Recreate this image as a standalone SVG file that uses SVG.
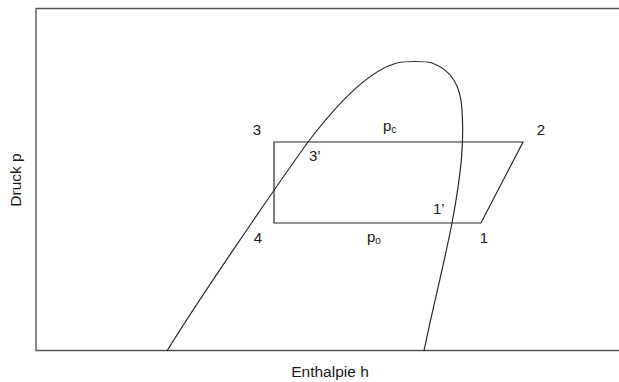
<svg xmlns="http://www.w3.org/2000/svg" width="619" height="382" viewBox="0 0 619 382">
<style>
.ln{fill:none;stroke:#2a2a2a;stroke-width:1.2}
.frame{fill:none;stroke:#555;stroke-width:1.4}
.t{font-family:"Liberation Sans",Arial,sans-serif;font-size:15px;fill:#1a1a1a}
.ax{font-family:"Liberation Sans",Arial,sans-serif;font-size:15.5px;fill:#1a1a1a}
.sub{font-size:10px}
</style>
<rect width="619" height="382" fill="#ffffff"/>
<g id="frame">
<path class="frame" d="M640,8.5 L36,8.5 L36,350.5 L640,350.5"/>
</g>
<g id="connectors">
<path id="dome" class="ln" d="M167,351 C195,305 270,195 308,142 C340,100 370,70 397,63 C405,61 425,61 432,63 C452,70 461,88 462,110 C464,140 462,170 452,223 C445,260 430,320 424,351"/>
<path id="cycle" class="ln" d="M274,142 L523,142 L481,223 L274,223 Z"/>
</g>
<g id="labels">
<text class="t" x="257" y="135" text-anchor="middle">3</text>
<text class="t" x="541" y="135" text-anchor="middle">2</text>
<text class="t" x="258" y="243" text-anchor="middle">4</text>
<text class="t" x="484" y="243" text-anchor="middle">1</text>
<text class="t" x="309" y="161">3’</text>
<text class="t" x="433" y="214">1’</text>
<text class="t" x="383" y="131">p<tspan class="sub" dy="2">c</tspan></text>
<text class="t" x="367" y="242">p<tspan class="sub" dy="2">o</tspan></text>
<text class="ax" x="330" y="377" text-anchor="middle">Enthalpie h</text>
<text class="ax" transform="translate(21,180) rotate(-90)" text-anchor="middle">Druck p</text>
</g>
</svg>
